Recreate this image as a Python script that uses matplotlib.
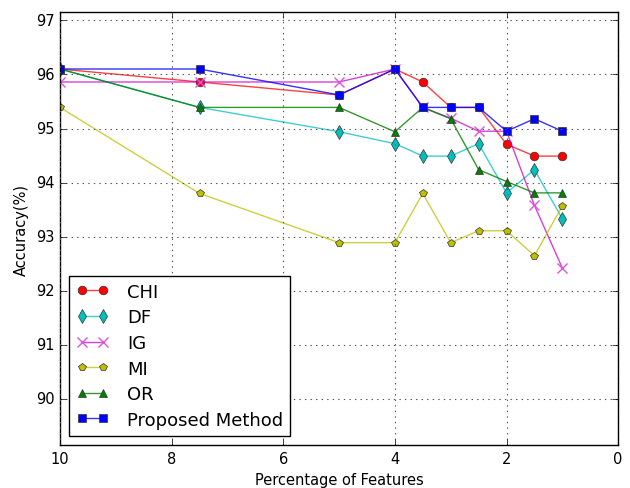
import matplotlib
matplotlib.use("Agg")
import matplotlib.pyplot as plt

plt.style.use("classic")

features = [10, 7.5, 5, 4, 3.5, 3, 2.5, 2, 1.5, 1]
chi = [96.10, 95.86, 95.62, 96.10, 95.86, 95.39, 95.39, 94.71, 94.49, 94.49]
df = [96.10, 95.39, 94.94, 94.72, 94.49, 94.49, 94.72, 93.81, 94.24, 93.33]
ig = [95.86, 95.86, 95.86, 96.10, 95.39, 95.19, 94.95, 94.95, 93.58, 92.42]
mi = [95.39, 93.80, 92.89, 92.89, 93.80, 92.89, 93.11, 93.11, 92.65, 93.57]
orr = [96.10, 95.39, 95.39, 94.94, 95.39, 95.18, 94.24, 94.02, 93.81, 93.81]
proposed = [96.10, 96.10, 95.62, 96.10, 95.39, 95.39, 95.39, 94.95, 95.18, 94.95]

labels = ["CHI", "DF", "IG", "MI", "OR", "Proposed Method"]

fig = plt.figure(figsize=(6.3, 4.89), dpi=100, facecolor="white")
ax = fig.add_axes([0.0952, 0.088, 0.886, 0.885])

series = [chi, df, ig, mi, orr, proposed]
markers = ["o", "d", "x", "p", "^", "s"]
line_colors = [(1, 0, 0, 0.75), (0, 0.75, 0.75, 0.75), (0.8, 0, 0.8, 0.75),
               (0.75, 0.75, 0, 0.75), (0, 0.5, 0, 0.8), (0, 0, 1, 0.8)]
face_colors = ["#ff0000", "#00bfbf", "#dd55dd", "#bfbf00", "#008000", "#0000ff"]
msizes = [6.2, 7, 6.5, 6, 6.2, 6.2]

for ys, m, lc, fc, ms, lab in zip(series, markers, line_colors, face_colors, msizes, labels):
    kw = dict(marker=m, color=lc, markerfacecolor=fc, markersize=ms, linewidth=1.0, label=lab)
    if m == "x":
        kw.update(markeredgecolor=fc, markeredgewidth=1.0)
    else:
        kw.update(markeredgecolor="#333333", markeredgewidth=0.5)
    ax.plot(features, ys, **kw)

ax.set_xlim(10, 0)
ax.set_ylim(89.15, 97.15)
ax.set_yticks([90, 91, 92, 93, 94, 95, 96, 97])
ax.set_xticks([10, 8, 6, 4, 2, 0])
ax.grid(True, linestyle=":", color="#555555", linewidth=0.8)
ax.tick_params(labelsize=10.5)
ax.set_xlabel("Percentage of Features", fontsize=10.5)
ax.set_ylabel("Accuracy(%)", fontsize=10.5)

leg = ax.legend(loc="lower left", fontsize=13, numpoints=2, fancybox=False,
                borderaxespad=0.5, handlelength=1.8, labelspacing=0.42,
                handletextpad=1.0)
leg.get_frame().set_linewidth(1.0)

fig.savefig("out.png", dpi=100, facecolor="white")
